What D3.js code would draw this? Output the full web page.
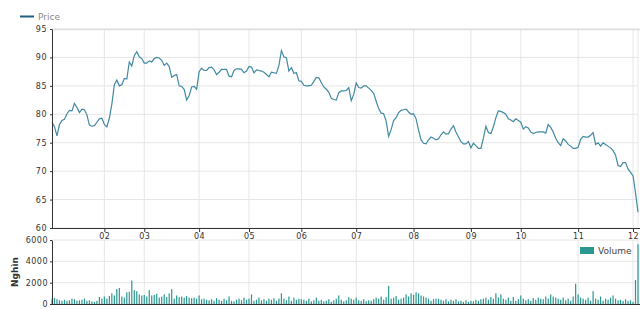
<!DOCTYPE html>
<html>
<head>
<meta charset="utf-8">
<script src="https://cdn.jsdelivr.net/npm/d3@7"></script>
<style>
	body { margin: 0; background: #fff; }
	.axis text { font-family: "DejaVu Sans", sans-serif; font-size: 8px; fill: #333; }
	.axis path, .axis line { stroke: #333; }
	.grid line { stroke: #e6e6e6; }
</style>
</head>
<body>
<div class="container"></div>
<script>
// closing price per trading day
const prices = [
	78.6, 77.8, 76.2, 78.2, 78.9, 79.1, 80.1, 80.7, 80.6, 81.9,
	81.2, 80.3, 80.9, 80.8, 79.9, 78.1, 77.9, 78.0, 78.6, 79.2,
	79.3, 78.2, 77.8, 79.3, 81.8, 85.2, 86.0, 85.0, 85.2, 86.3,
	86.2, 89.2, 88.5, 90.3, 91.0, 90.1, 89.8, 89.0, 89.0, 89.4,
	89.2, 89.8, 90.0, 89.9, 89.5, 88.6, 89.0, 88.4, 86.5, 86.8,
	87.0, 85.0, 84.9, 84.4, 82.5, 83.3, 84.8, 84.9, 84.4, 87.5,
	88.1, 87.7, 87.7, 88.2, 88.3, 87.8, 87.0, 87.4, 87.9, 87.9,
	87.9, 86.7, 86.6, 87.7, 88.0, 88.0, 87.9, 87.3, 87.6, 88.4,
	88.3, 87.3, 87.8, 87.7, 87.6, 87.4, 87.0, 86.6, 87.4, 87.3,
	87.2, 88.6, 91.2, 90.1, 89.9, 87.6, 88.2, 87.2, 87.3, 85.9,
	85.8, 85.1, 85.0, 85.0, 85.1, 85.8, 86.5, 86.4, 85.6, 84.8,
	84.4, 83.9, 82.8, 82.6, 82.5, 83.8, 84.1, 84.1, 84.2, 84.7,
	82.4, 83.5, 85.5, 84.7, 84.6, 85.0, 85.0, 84.6, 84.2, 83.7,
	82.3, 81.0, 80.2, 80.1, 78.8, 76.1, 77.3, 78.9, 79.4, 80.3,
	80.7, 80.8, 80.9, 80.4, 80.0, 80.1, 79.2, 77.2, 75.5, 74.9,
	74.8, 75.5, 76.0, 75.8, 75.5, 75.7, 76.4, 76.9, 76.5, 76.6,
	77.4, 78.0, 76.9, 76.0, 75.2, 74.8, 74.8, 75.2, 74.1, 74.9,
	74.5, 74.0, 74.0, 75.8, 77.9, 76.8, 76.6, 77.8, 79.4, 80.6,
	80.5, 80.3, 80.0, 79.2, 79.0, 78.7, 79.2, 78.9, 78.6, 77.4,
	77.8, 77.6, 76.9, 76.6, 76.8, 76.9, 76.9, 76.9, 76.7, 78.2,
	77.7, 76.9, 75.8, 75.0, 74.5, 75.7, 75.3, 74.7, 74.4, 74.0,
	74.0, 74.2, 75.6, 76.1, 76.0, 76.0, 76.3, 76.8, 74.7, 75.0,
	74.4, 75.0, 74.7, 74.4, 74.1, 73.6, 72.8, 71.0, 70.8, 71.5,
	71.5, 70.4, 69.8, 69.2, 66.2, 62.8
];

// traded volume, thousands of shares
const volumes = [
	500, 550, 450, 350, 300, 400, 300, 350, 500, 450,
	300, 350, 400, 500, 300, 350, 250, 200, 300, 650,
	500, 700, 500, 750, 1000, 800, 1400, 1500, 700, 600,
	1100, 1150, 2200, 1300, 1200, 900, 800, 850, 700, 1300,
	800, 850, 950, 600, 700, 900, 650, 1000, 1400, 500,
	800, 650, 700, 600, 750, 600, 550, 600, 500, 800,
	450, 500, 400, 350, 450, 300, 550, 400, 300, 500,
	350, 700, 300, 250, 400, 500, 350, 600, 400, 500,
	900, 300, 400, 600, 350, 450, 300, 500, 400, 550,
	300, 500, 1000, 500, 350, 700, 300, 600, 400, 500,
	450, 400, 300, 500, 250, 350, 600, 300, 400, 250,
	300, 450, 200, 350, 500, 800, 400, 250, 350, 650,
	500, 400, 600, 350, 300, 450, 250, 350, 300, 450,
	600, 500, 700, 400, 650, 1700, 500, 600, 750, 400,
	500, 600, 900, 700, 1000, 850, 1100, 1000, 800, 700,
	600, 500, 300, 450, 500, 500, 400, 300, 450, 250,
	400, 300, 450, 250, 300, 200, 350, 200, 300, 250,
	400, 300, 450, 500, 600, 400, 650, 500, 1000, 600,
	900, 500, 400, 600, 300, 650, 300, 450, 800, 500,
	350, 450, 300, 550, 400, 600, 500, 450, 700, 500,
	900, 700, 600, 500, 400, 600, 350, 500, 300, 700,
	1900, 900, 600, 500, 400, 600, 300, 1200, 500, 400,
	700, 300, 500, 400, 600, 800, 500, 350, 400, 300,
	450, 300, 350, 200, 2250, 5600
];

// month ticks: trading-day index of each month start
const monthIdx = [21, 37, 59, 79, 100, 122, 145, 168, 188, 211, 233];
const monthLabels = ['02', '03', '04', '05', '06', '07', '08', '09', '10', '11', '12'];

const priceTicks = [60, 65, 70, 75, 80, 85, 90, 95];
const volumeTicks = [0, 2000, 4000, 6000];

const WIDTH = 640;
const HEIGHT = 310;
const LEFT = 52;
const RIGHT = 638;

var svg = d3.select('.container').append('svg')
	.attr('width', WIDTH)
	.attr('height', HEIGHT);

var x = d3.scaleLinear()
	.domain([0, prices.length - 1])
	.range([LEFT, RIGHT]);

var yPrice = d3.scaleLinear().domain([60, 95]).range([228, 29]);
var yVol = d3.scaleLinear().domain([0, 6000]).range([304, 240]);

var drawGrid = function(yScale, ticks){
	var g = svg.append('g').attr('class', 'grid');
	g.selectAll('.h').data(ticks).enter().append('line')
		.attr('x1', LEFT).attr('x2', RIGHT)
		.attr('y1', d => yScale(d)).attr('y2', d => yScale(d));
	g.selectAll('.v').data(monthIdx).enter().append('line')
		.attr('x1', d => x(d)).attr('x2', d => x(d))
		.attr('y1', yScale.range()[0]).attr('y2', yScale.range()[1]);
	g.append('line')
		.attr('x1', RIGHT).attr('x2', RIGHT)
		.attr('y1', yScale.range()[0]).attr('y2', yScale.range()[1]);
}

drawGrid(yPrice, priceTicks);
drawGrid(yVol, volumeTicks);

// top frame line of price panel
svg.append('line')
	.attr('x1', LEFT).attr('x2', WIDTH)
	.attr('y1', 29.5).attr('y2', 29.5)
	.attr('stroke', '#ddd').attr('stroke-width', 1.5);

// price line
var line = d3.line()
	.x(function(d, i){ return x(i); })
	.y(function(d){ return yPrice(d); });

svg.append('path')
	.attr('d', line(prices))
	.attr('fill', 'none')
	.attr('stroke', '#4289a2')
	.attr('stroke-width', 1.2);

// volume bars
svg.append('g').selectAll('rect').data(volumes).enter().append('rect')
	.attr('x', (d, i) => x(i) - 0.6)
	.attr('width', 1.2)
	.attr('y', d => yVol(d))
	.attr('height', d => yVol(0) - yVol(d))
	.attr('fill', '#2a9890');

// axes
var xAxis = d3.axisBottom(x)
	.tickValues(monthIdx)
	.tickFormat((d, i) => monthLabels[i])
	.tickSize(4)
	.tickSizeOuter(0)
	.tickPadding(1);

svg.append('g').attr('class', 'axis')
	.attr('transform', 'translate(0,228)')
	.call(xAxis)
	.select('.domain').attr('d', 'M' + LEFT + ',0.5H' + WIDTH);

svg.append('g').attr('class', 'axis')
	.attr('transform', 'translate(' + LEFT + ',0)')
	.call(d3.axisLeft(yPrice).tickValues(priceTicks).tickSize(2).tickSizeOuter(0).tickPadding(3));

svg.append('g').attr('class', 'axis')
	.attr('transform', 'translate(' + LEFT + ',0)')
	.call(d3.axisLeft(yVol).tickValues(volumeTicks).tickFormat(d3.format('d')).tickSize(2).tickSizeOuter(0).tickPadding(2));

svg.append('line')
	.attr('x1', LEFT).attr('x2', WIDTH)
	.attr('y1', 304.5).attr('y2', 304.5)
	.attr('stroke', '#333');

svg.selectAll('.axis text').style('letter-spacing', '0.5px');

// axis title
svg.append('text')
	.attr('transform', 'translate(18,272) rotate(-90)')
	.attr('text-anchor', 'middle')
	.style('font-family', '"DejaVu Sans", sans-serif')
	.style('font-size', '9px')
	.style('font-weight', 'bold')
	.attr('fill', '#333')
	.text('Nghìn');

// legends
svg.append('line')
	.attr('x1', 20).attr('x2', 34).attr('y1', 16.5).attr('y2', 16.5)
	.attr('stroke', '#1f5f80').attr('stroke-width', 2);
svg.append('text')
	.attr('x', 38).attr('y', 20)
	.style('font-family', '"DejaVu Sans", sans-serif')
	.style('font-size', '9px')
	.attr('fill', '#888')
	.text('Price');

svg.append('rect')
	.attr('x', 580).attr('y', 247).attr('width', 14).attr('height', 7)
	.attr('fill', '#2a9890');
svg.append('text')
	.attr('x', 598).attr('y', 254)
	.style('font-family', '"DejaVu Sans", sans-serif')
	.style('font-size', '9px')
	.attr('fill', '#444')
	.text('Volume');
</script>
</body>
</html>
